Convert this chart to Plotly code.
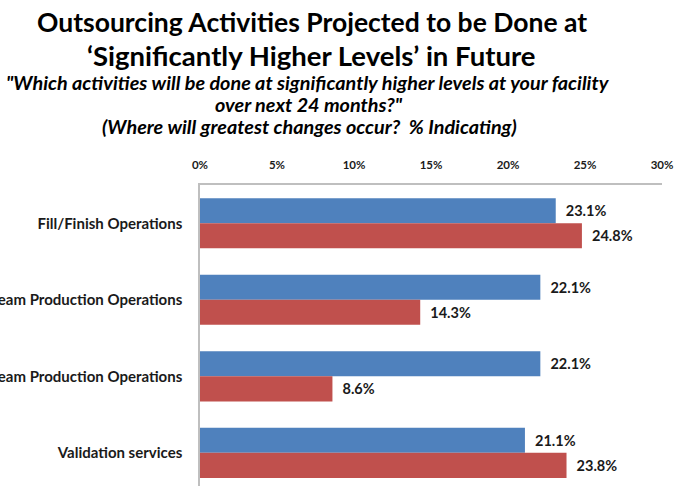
import plotly.graph_objects as go

categories = ["Fill/Finish Operations", "Downstream Production Operations",
              "Upstream Production Operations", "Validation services"]
series_blue = [23.1, 22.1, 22.1, 21.1]
series_red = [24.8, 14.3, 8.6, 23.8]
tick_vals = [0, 5, 10, 15, 20, 25, 30]
tick_text = ["0%", "5%", "10%", "15%", "20%", "25%", "30%"]

W, H = 675, 486
L, R, T, B = 200, 13, 185, 0
PW, PH = W - L - R, H - T - B

def px(x):
    return (x - L) / PW

def py(y):
    return (H - B - y) / PH

FONT = "Lato"
NB = "\u00a0\u00a0"

fig = go.Figure()
fig.add_trace(go.Bar(
    y=categories, x=series_blue, orientation="h", name="Series 1",
    marker=dict(color="#4F81BD", line=dict(width=0)),
    text=[f"{NB}{v:.1f}%" for v in series_blue], textposition="outside",
    textfont=dict(family=FONT, size=14.5, color="#1a1a1a", weight="bold"),
    cliponaxis=False,
))
fig.add_trace(go.Bar(
    y=categories, x=series_red, orientation="h", name="Series 2",
    marker=dict(color="#C0504D", line=dict(width=0)),
    text=[f"{NB}{v:.1f}%" for v in series_red], textposition="outside",
    textfont=dict(family=FONT, size=14.5, color="#1a1a1a", weight="bold"),
    cliponaxis=False,
))

fig.update_layout(
    width=W, height=H,
    margin=dict(l=L, r=R, t=T, b=B, pad=0),
    paper_bgcolor="white", plot_bgcolor="white",
    barmode="group", bargap=0.345, bargroupgap=0,
    showlegend=False,
    font=dict(family=FONT, color="#1a1a1a"),
)
fig.update_xaxes(
    side="top", range=[0, 30], tickvals=tick_vals, ticktext=tick_text,
    showgrid=False, zeroline=False, showline=True, linecolor="#BFBFBF", linewidth=1.5,
    ticks="", tickfont=dict(family=FONT, size=11.5, color="#1a1a1a", weight="bold"),
    ticklabelstandoff=10, fixedrange=True,
)
fig.update_yaxes(
    type="category", categoryorder="array", categoryarray=categories,
    range=[3.433, -0.5], showgrid=False, zeroline=False,
    showline=True, linecolor="#BFBFBF", linewidth=1.5, ticks="",
    tickfont=dict(family=FONT, size=15, color="#1a1a1a", weight="bold"),
    ticklabelstandoff=13, automargin=False,
)

lines = [
    ("Outsourcing Activities Projected to be Done at", 312, 22, 26.5, "normal"),
    ("\u2018Significantly Higher Levels\u2019 in Future", 311, 55, 27.5, "normal"),
    ("\"Which activities will be done at significantly higher levels at your facility", 308, 82, 19.8, "italic"),
    ("over next 24 months?\"", 309, 104, 19.8, "italic"),
    ("(Where will greatest changes occur?  % Indicating)", 309, 126, 19.8, "italic"),
]
for txt, cx, cy, size, style in lines:
    fig.add_annotation(
        text=txt, xref="paper", yref="paper", x=px(cx), y=py(cy),
        xanchor="center", yanchor="middle", showarrow=False,
        font=dict(family=FONT, size=size, color="#000000", weight="bold", style=style),
    )

fig.write_html("out.html")
